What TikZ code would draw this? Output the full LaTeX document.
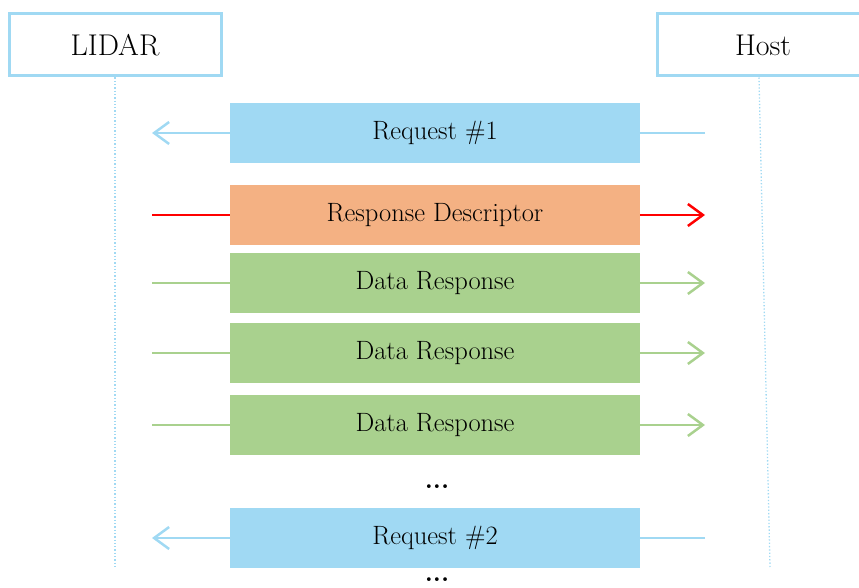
\documentclass[tikz,border=0pt]{standalone}
\usepackage{xcolor}
\usetikzlibrary{arrows.meta}

\definecolor{reqblue}{RGB}{160,217,243}
\definecolor{descorange}{RGB}{244,177,131}
\definecolor{datagreen}{RGB}{169,209,142}

\begin{document}
\begin{tikzpicture}[x=1pt,y=-1pt,
	party/.style={draw=reqblue, line width=3pt, fill=white, minimum width=212pt, minimum height=62pt, inner sep=0pt, font=\fontsize{30}{36}\selectfont},
	msg/.style={minimum width=410pt, minimum height=60pt, inner sep=0pt, font=\fontsize{26.5}{31}\selectfont},
	lifeline/.style={draw=reqblue, line width=1.3pt, dotted},
	tip/.style={-{Straight Barb[length=15pt, width=22pt, line width=2.5pt]}},
	dots/.style={font=\fontsize{26}{30}\selectfont\bfseries, inner sep=0pt}]
				\useasboundingbox (0,0) rectangle (859,588);
				\clip (0,0) rectangle (859,588);
				% lifelines
				\node[party] (lidar) at (115,45) {LIDAR};
				\draw[reqblue, line width=3pt, fill=white] (657,14) rectangle (890,76);
				\node[party, draw=none, fill=none] (host) at (763,45) {Host};
				\coordinate (lidarend) at (115,567);
				\coordinate (hostend) at (770,567);
				\draw[lifeline] (lidar.south) -- (lidarend);
				\draw[lifeline] ([xshift=-4pt]host.south) -- (hostend);
				% messages
				\node[msg, fill=reqblue] (req1) at (435,133) {Request \#1};
				\node[msg, fill=descorange] (desc) at (435,215) {Response Descriptor};
				\node[msg, fill=datagreen] (data1) at (435,283) {Data Response};
				\node[msg, fill=datagreen] (data2) at (435,353) {Data Response};
				\node[msg, fill=datagreen] (data3) at (435,425) {Data Response};
				\node[dots] (more1) at (437,487) {...};
				\node[msg, fill=reqblue] (req2) at (435,538) {Request \#2};
				\node[dots] (more2) at (437,580) {...};
				% request arrows, host -> lidar
				\coordinate (r1a) at (705,133); \coordinate (r1b) at (152,133);
				\draw[reqblue, line width=2.5pt] (r1a) -- (req1.east);
				\draw[reqblue, line width=2.5pt, tip] (req1.west) -- (r1b);
				\coordinate (r2a) at (705,538); \coordinate (r2b) at (152,538);
				\draw[reqblue, line width=2.5pt] (r2a) -- (req2.east);
				\draw[reqblue, line width=2.5pt, tip] (req2.west) -- (r2b);
				% response arrows, lidar -> host
				\coordinate (da) at (152,215); \coordinate (db) at (705,215);
				\draw[red, line width=2.5pt] (da) -- (desc.west);
				\draw[red, line width=2.5pt, tip] (desc.east) -- (db);
				\foreach \d/\y in {data1/283, data2/353, data3/425}{
					\coordinate (\d a) at (152,\y); \coordinate (\d b) at (705,\y);
					\draw[datagreen, line width=2.5pt] (\d a) -- (\d.west);
					\draw[datagreen, line width=2.5pt, tip] (\d.east) -- (\d b);
				}
			\end{tikzpicture}
\end{document}
